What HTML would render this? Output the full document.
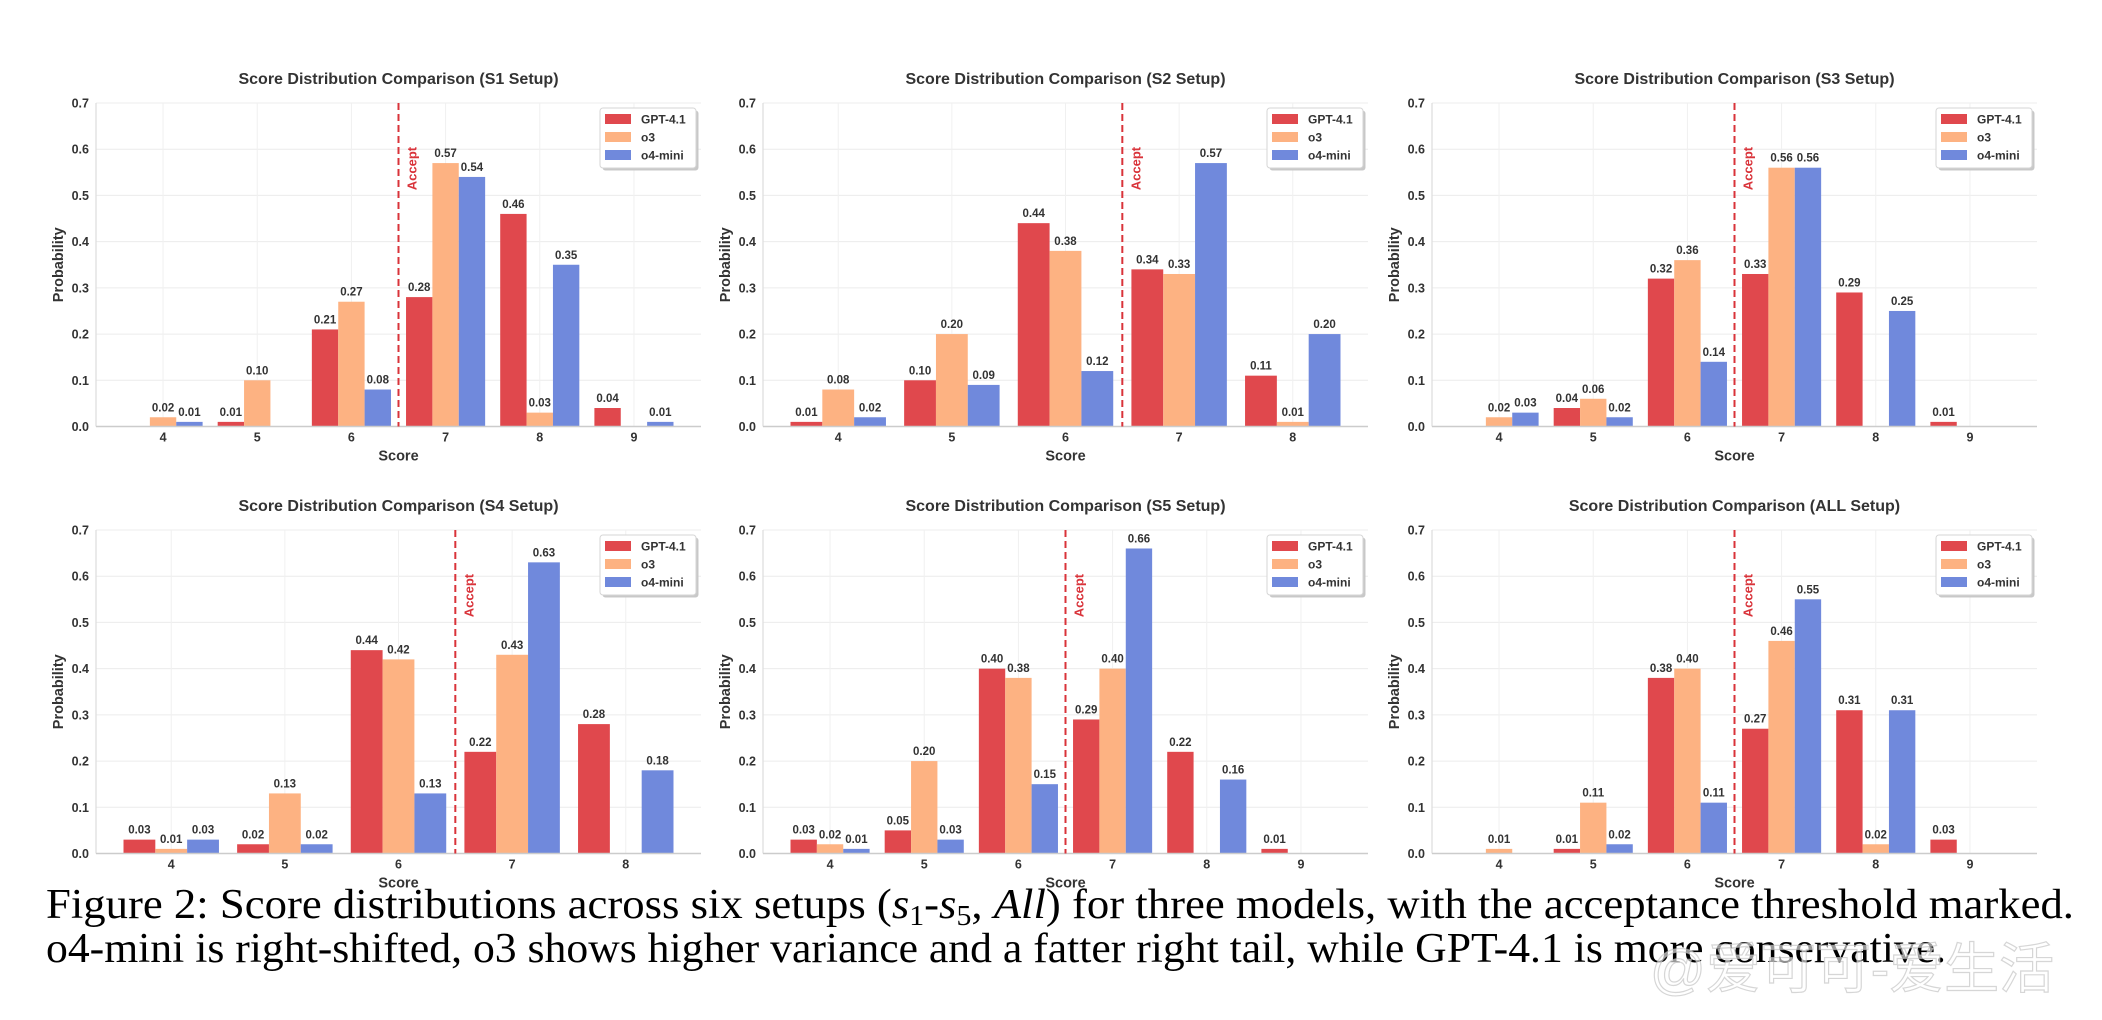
<!DOCTYPE html>
<html><head><meta charset="utf-8">
<style>
html,body{margin:0;padding:0;background:#fff;}
svg{display:block;}
</style></head>
<body>
<svg id="fig" width="2102" height="1020" viewBox="0 0 2102 1020" xmlns="http://www.w3.org/2000/svg" font-family="'Liberation Sans', Arial, sans-serif">
<g id="charts"></g>
<text x="46" y="918" font-family="'Liberation Serif', 'Times New Roman', serif" font-size="42" fill="#000" textLength="2028" lengthAdjust="spacingAndGlyphs">Figure 2: Score distributions across six setups (<tspan font-style="italic">s</tspan><tspan font-size="28" dy="7">1</tspan><tspan dy="-7">-</tspan><tspan font-style="italic">s</tspan><tspan font-size="28" dy="7">5</tspan><tspan dy="-7">, </tspan><tspan font-style="italic">All</tspan>) for three models, with the acceptance threshold marked.</text>
<text x="46" y="962" font-family="'Liberation Serif', 'Times New Roman', serif" font-size="42" fill="#000" textLength="1900" lengthAdjust="spacingAndGlyphs">o4-mini is right-shifted, o3 shows higher variance and a fatter right tail, while GPT-4.1 is more conservative.</text>
<text x="1650" y="988" font-family="'Liberation Sans', 'Noto Sans CJK SC', sans-serif" font-size="55" fill="#ffffff" fill-opacity="0.6" stroke="#bbbbbb" stroke-opacity="0.6" stroke-width="1.2">@爱可可-爱生活</text>
</svg>
<script>
const seriesNames = ["GPT-4.1", "o3", "o4-mini"];
const titles = ["S1", "S2", "S3", "S4", "S5", "ALL"];
const cats6 = [4, 5, 6, 7, 8, 9];
const cats5 = [4, 5, 6, 7, 8];
const yTicks = [0.0, 0.1, 0.2, 0.3, 0.4, 0.5, 0.6, 0.7];
const acceptAt = 6.5;

const s1Gpt = [0, 0.01, 0.21, 0.28, 0.46, 0.04];
const s1O3  = [0.02, 0.10, 0.27, 0.57, 0.03, 0];
const s1O4  = [0.01, 0, 0.08, 0.54, 0.35, 0.01];

const s2Gpt = [0.01, 0.10, 0.44, 0.34, 0.11];
const s2O3  = [0.08, 0.20, 0.38, 0.33, 0.01];
const s2O4  = [0.02, 0.09, 0.12, 0.57, 0.20];

const s3Gpt = [0, 0.04, 0.32, 0.33, 0.29, 0.01];
const s3O3  = [0.02, 0.06, 0.36, 0.56, 0, 0];
const s3O4  = [0.03, 0.02, 0.14, 0.56, 0.25, 0];

const s4Gpt = [0.03, 0.02, 0.44, 0.22, 0.28];
const s4O3  = [0.01, 0.13, 0.42, 0.43, 0];
const s4O4  = [0.03, 0.02, 0.13, 0.63, 0.18];

const s5Gpt = [0.03, 0.05, 0.40, 0.29, 0.22, 0.01];
const s5O3  = [0.02, 0.20, 0.38, 0.40, 0, 0];
const s5O4  = [0.01, 0.03, 0.15, 0.66, 0.16, 0];

const allGpt = [0, 0.01, 0.38, 0.27, 0.31, 0.03];
const allO3  = [0.01, 0.11, 0.40, 0.46, 0.02, 0];
const allO4  = [0, 0.02, 0.11, 0.55, 0.31, 0];

const panels = [
  {cats: cats6, s: [s1Gpt, s1O3, s1O4]},
  {cats: cats5, s: [s2Gpt, s2O3, s2O4]},
  {cats: cats6, s: [s3Gpt, s3O3, s3O4]},
  {cats: cats5, s: [s4Gpt, s4O3, s4O4]},
  {cats: cats6, s: [s5Gpt, s5O3, s5O4]},
  {cats: cats6, s: [allGpt, allO3, allO4]}
];

const colors = ["#E0484D", "#FDB282", "#7089DC"];
const NS = "http://www.w3.org/2000/svg";
const root = document.getElementById("charts");
function mk(tag, attrs, parent) {
  const e = document.createElementNS(NS, tag);
  for (const k in attrs) e.setAttribute(k, attrs[k]);
  parent.appendChild(e);
  return e;
}
const colX = [96, 763, 1432];
const rowY = [103, 530];
const PW = 605, PH = 323.5, YMAX = 0.7, BW = 0.28;

panels.forEach((p, pi) => {
  const L = colX[pi % 3], T = rowY[Math.floor(pi / 3)];
  const g = mk("g", {}, root);
  
  
  const n = p.cats.length;
  const lo = p.cats[0] - 1.5 * BW, hi = p.cats[n - 1] + 1.5 * BW;
  const m = (hi - lo) * 0.05;
  const xmin = lo - m, xmax = hi + m;
  const xs = v => L + (v - xmin) / (xmax - xmin) * PW;
  const ys = v => T + PH - v / YMAX * PH;
  const B = T + PH;
  yTicks.forEach(t => {
    const l = mk("line", {x1: L, x2: L + PW, y1: ys(t), y2: ys(t), stroke: "#ececec", "stroke-width": 1}, g);
    
    
    const tx = mk("text", {x: L - 7, y: ys(t) + 4.5, "text-anchor": "end", "font-size": 12.5, "font-weight": "bold", fill: "#333"}, g);
    tx.textContent = t.toFixed(1);
    
    
  });
  p.cats.forEach(c => {
    const l = mk("line", {x1: xs(c), x2: xs(c), y1: T, y2: B, stroke: "#f0f0f0", "stroke-width": 1}, g);
    
    
    const tx = mk("text", {x: xs(c), y: B + 15, "text-anchor": "middle", "font-size": 12.5, "font-weight": "bold", fill: "#333"}, g);
    tx.textContent = c;
    
    
  });
  const sl = mk("line", {x1: L, x2: L, y1: T, y2: B, stroke: "#dddddd", "stroke-width": 1.2}, g);
  
  
  p.s.forEach((arr, si) => {
    arr.forEach((v, ci) => {
      const cx = p.cats[ci] + (si - 1) * BW;
      if (v > 0) {
        const r = mk("rect", {x: xs(cx - BW / 2), y: ys(v), width: xs(cx + BW / 2) - xs(cx - BW / 2), height: B - ys(v), fill: colors[si]}, g);
        
        
        const lb = mk("text", {x: xs(cx), y: ys(v) - 6, "text-anchor": "middle", "font-size": 11.5, "font-weight": "bold", fill: "#333"}, g);
        lb.textContent = v.toFixed(2);
        
        
      }
    });
  });
  const bl = mk("line", {x1: L, x2: L + PW, y1: B, y2: B, stroke: "#cccccc", "stroke-width": 1.5}, g);
  
  
  const al = mk("line", {x1: xs(acceptAt), x2: xs(acceptAt), y1: T, y2: B, stroke: "#D9333A", "stroke-width": 2, "stroke-dasharray": "7,4"}, g);
  
  
  const at = mk("text", {x: 0, y: 0, "text-anchor": "end", "font-size": 13, "font-weight": "bold", fill: "#D9333A",
    transform: "translate(" + (xs(acceptAt) + 18) + "," + ys(0.605) + ") rotate(-90)"}, g);
  at.textContent = "Accept";
  
  
  const tt = mk("text", {x: L + PW / 2, y: T - 19, "text-anchor": "middle", "font-size": 16, "font-weight": "bold", fill: "#333"}, g);
  tt.textContent = "Score Distribution Comparison (" + titles[pi] + " Setup)";
  
  
  const xl = mk("text", {x: L + PW / 2, y: B + 34, "text-anchor": "middle", "font-size": 14.5, "font-weight": "bold", fill: "#333"}, g);
  xl.textContent = "Score";
  
  
  const yl = mk("text", {x: 0, y: 0, "text-anchor": "middle", "font-size": 14.5, "font-weight": "bold", fill: "#333",
    transform: "translate(" + (L - 33) + "," + (T + PH / 2) + ") rotate(-90)"}, g);
  yl.textContent = "Probability";
  
  
  const lx = L + PW - 101, ly = T + 5;
  const lg = mk("g", {}, g);
  
  
  mk("rect", {x: lx + 2.5, y: ly + 2.5, width: 96, height: 60, rx: 3, fill: "#c8c8c8"}, lg);
  mk("rect", {x: lx, y: ly, width: 96, height: 60, rx: 3, fill: "#fff", stroke: "#d6d6d6", "stroke-width": 1}, lg);
  seriesNames.forEach((nm, si) => {
    const e = mk("g", {}, lg);
    
    
    mk("rect", {x: lx + 5, y: ly + 6 + si * 18, width: 26, height: 10, fill: colors[si]}, e);
    const t = mk("text", {x: lx + 41, y: ly + 15.5 + si * 18, "font-size": 12, "font-weight": "bold", fill: "#333"}, e);
    t.textContent = nm;
  });
});
</script>
</body></html>
